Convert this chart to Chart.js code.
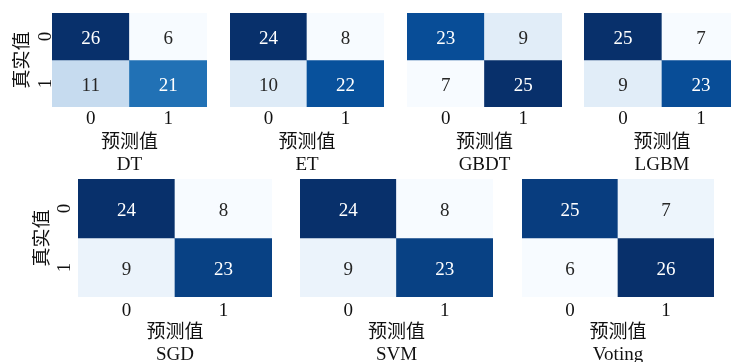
<!DOCTYPE html>
<html>
<head>
<meta charset="utf-8">
<script src="https://cdn.jsdelivr.net/npm/chart.js@4/dist/chart.umd.min.js"></script>
<style>
  html, body { margin: 0; padding: 0; background: #fff; }
  #wrap { position: relative; width: 731px; height: 362px; overflow: hidden; background: #fff; }
  .panel { position: absolute; }
</style>
</head>
<body>
<div id="wrap"></div>
<script>
// confusion matrices, one entry per model
const models = ['DT', 'ET', 'GBDT', 'LGBM', 'SGD', 'SVM', 'Voting'];
const tn = [26, 24, 23, 25, 24, 24, 25];
const fp = [6, 8, 9, 7, 8, 8, 7];
const fn = [11, 10, 7, 9, 9, 9, 6];
const tp = [21, 22, 25, 23, 23, 23, 26];
const classLabels = ['0', '1'];
const xTitle = '预测值';
const yTitle = '真实值';

// panel boxes (plot area edges); first panel of each row carries the y axis
const panels = [
    { x0: 52, x1: 207, y0: 13, y1: 107, tickPad: 1, yAxis: { titleX: 23, tickPad: 1 } },
    { x0: 230, x1: 384, y0: 13, y1: 107, tickPad: 1 },
    { x0: 407, x1: 562, y0: 13, y1: 107, tickPad: 1 },
    { x0: 584, x1: 740, y0: 13, y1: 107, tickPad: 1 },
    { x0: 78, x1: 272, y0: 179, y1: 297, tickPad: 3, yAxis: { titleX: 43, tickPad: 8 } },
    { x0: 300, x1: 493, y0: 179, y1: 297, tickPad: 3 },
    { x0: 522, x1: 714, y0: 179, y1: 297, tickPad: 3 }
];
const X_AXIS_H = 69;
const LINE_H = 22;

const FONT_FAMILY = '"Liberation Serif", "Noto Sans CJK SC", serif';
const TEXT = '#111';

// matplotlib "Blues"
const blues = ['#f7fbff', '#deebf7', '#c6dbef', '#9ecae1', '#6baed6', '#4292c6', '#2171b5', '#08519c', '#08306b'];

function hexToRgb(h) {
    return [1, 3, 5].map(i => parseInt(h.slice(i, i + 2), 16));
}

function bluesAt(t) {
    t = Math.max(0, Math.min(1, t));
    const pos = t * (blues.length - 1);
    const i = Math.min(Math.floor(pos), blues.length - 2);
    const f = pos - i;
    const a = hexToRgb(blues[i]), b = hexToRgb(blues[i + 1]);
    return a.map((c, k) => Math.round(c + (b[k] - c) * f));
}

function luminance(rgb) {
    const lin = rgb.map(c => {
        c /= 255;
        return c <= 0.03928 ? c / 12.92 : Math.pow((c + 0.055) / 1.055, 2.4);
    });
    return 0.2126 * lin[0] + 0.7152 * lin[1] + 0.0722 * lin[2];
}

// writes the count in the middle of each cell
const cellText = {
    id: 'cellText',
    afterDatasetsDraw(chart) {
        const ctx = chart.ctx;
        ctx.save();
        ctx.font = '19px ' + FONT_FAMILY;
        ctx.textAlign = 'center';
        ctx.textBaseline = 'middle';
        chart.data.datasets.forEach((ds, di) => {
            chart.getDatasetMeta(di).data.forEach((bar, i) => {
                const rgb = ds.cellRgb[i];
                ctx.fillStyle = luminance(rgb) > 0.408 ? '#262626' : '#ffffff';
                ctx.fillText(String(ds.counts[i]), bar.x, (bar.y + bar.base) / 2 + 3);
            });
        });
        ctx.restore();
    }
};

const wrap = document.getElementById('wrap');

models.forEach((name, m) => {
    const p = panels[m];
    const rows = [[tn[m], fp[m]], [fn[m], tp[m]]];
    const all = rows.flat();
    const lo = Math.min(...all), hi = Math.max(...all);

    const left = p.yAxis ? p.yAxis.titleX - LINE_H / 2 : p.x0;
    const yW = p.x0 - left;

    const box = document.createElement('div');
    box.className = 'panel';
    box.style.left = left + 'px';
    box.style.top = p.y0 + 'px';
    box.style.width = (p.x1 - left) + 'px';
    box.style.height = (p.y1 - p.y0 + X_AXIS_H) + 'px';
    const canvas = document.createElement('canvas');
    box.appendChild(canvas);
    wrap.appendChild(box);

    const datasets = rows.map((vals, r) => {
        const rgb = vals.map(v => bluesAt((v - lo) / (hi - lo)));
        return {
            data: vals.map(() => [r, r + 1]),
            counts: vals,
            cellRgb: rgb,
            backgroundColor: rgb.map(c => `rgb(${c[0]},${c[1]},${c[2]})`),
            borderWidth: 0,
            barPercentage: 1,
            categoryPercentage: 1
        };
    });

    new Chart(canvas, {
        type: 'bar',
        data: { labels: classLabels, datasets },
        options: {
            responsive: true,
            maintainAspectRatio: false,
            animation: false,
            layout: { padding: 0 },
            plugins: {
                legend: { display: false },
                tooltip: { enabled: false }
            },
            scales: {
                x: {
                    stacked: true,
                    grid: { display: false, drawTicks: false },
                    border: { display: false },
                    ticks: {
                        padding: p.tickPad,
                        color: TEXT,
                        font: { family: FONT_FAMILY, size: 19, lineHeight: LINE_H + 'px' }
                    },
                    title: {
                        display: true,
                        text: [xTitle, name],
                        color: TEXT,
                        padding: 0,
                        font: { family: FONT_FAMILY, size: 19, lineHeight: LINE_H + 'px' }
                    },
                    afterFit(scale) {
                        scale.height = X_AXIS_H;
                        scale.paddingLeft = 0;
                        scale.paddingRight = 0;
                    }
                },
                y: {
                    display: !!p.yAxis,
                    stacked: false,
                    reverse: true,
                    min: 0,
                    max: 2,
                    grid: { display: false, drawTicks: false },
                    border: { display: false },
                    afterBuildTicks(scale) {
                        scale.ticks = classLabels.map((_, i) => ({ value: i + 0.5 }));
                    },
                    ticks: {
                        minRotation: 90,
                        maxRotation: 90,
                        crossAlign: 'center',
                        padding: p.yAxis ? p.yAxis.tickPad : 0,
                        color: TEXT,
                        font: { family: FONT_FAMILY, size: 19, lineHeight: LINE_H + 'px' },
                        callback: (v, i) => classLabels[i]
                    },
                    title: {
                        display: true,
                        text: yTitle,
                        color: TEXT,
                        padding: 0,
                        font: { family: FONT_FAMILY, size: 19, lineHeight: LINE_H + 'px' }
                    },
                    afterFit(scale) {
                        scale.width = yW;
                        scale.paddingTop = 0;
                        scale.paddingBottom = 0;
                    }
                }
            }
        },
        plugins: [cellText]
    });
});
</script>
</body>
</html>
